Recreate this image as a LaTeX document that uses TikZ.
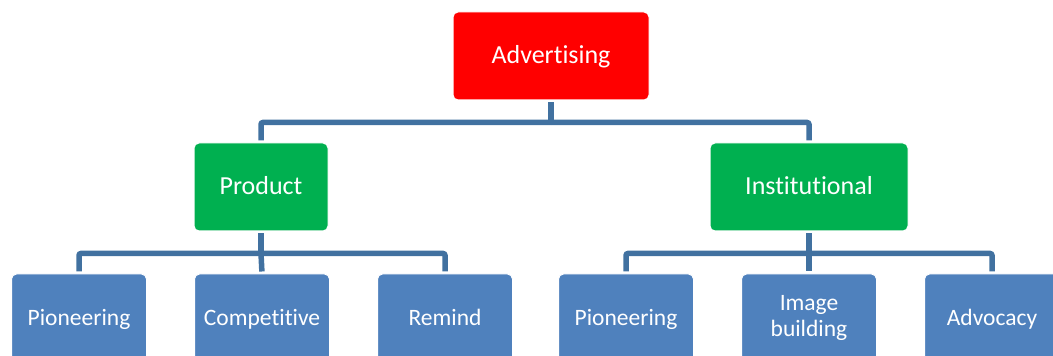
\documentclass[tikz,border=0pt]{standalone}
\usepackage{fontspec}
\setmainfont{Carlito}[Renderer=AAT, RawFeature={-liga;-rlig;-ccmp;-clig;-dlig;-calt}]
\usetikzlibrary{positioning, calc}
\usepackage{xcolor}
\definecolor{topred}{RGB}{255,0,0}
\definecolor{midgreen}{RGB}{0,176,80}
\definecolor{leafblue}{RGB}{79,129,189}
\definecolor{linkblue}{RGB}{65,113,160}
\newcommand{\boxstrut}{\rule[-4pt]{0pt}{24pt}}

\begin{document}
\begin{tikzpicture}[
        x=1pt, y=1pt,
        % Styles
        box/.style={draw=white, line width=1pt, rounded corners=5pt, text=white, align=center, inner sep=2pt, execute at begin node=\boxstrut},
        root/.style={box, fill=topred, minimum width=196pt, minimum height=88pt, font=\fontsize{26}{28}\selectfont},
        branch/.style={box, fill=midgreen, minimum height=88pt, font=\fontsize{26}{28}\selectfont},
        leaf/.style={box, fill=leafblue, minimum width=135pt, minimum height=88pt, font=\fontsize{23.5}{26}\selectfont},
        link/.style={draw=linkblue, line width=5.5pt, rounded corners=2pt, shorten <=2pt, shorten >=2pt},
    ]
        \useasboundingbox (0,0) rectangle (1053,356);

        % === Top: advertising ===
        \node[root] (adv) at (551,300) {Advertising};

        % === Second row ===
        \node[branch, minimum width=134pt] (prod) at (261,169) {Product};
        \node[branch, minimum width=198pt] (inst) at (809,169) {Institutional};

        % === Leaves under Product ===
        \node[leaf] (pionP) at (79,38) {Pioneering};
        \node[leaf, right=47pt of pionP] (comp) {Competitive};
        \node[leaf, right=47pt of comp] (remind) {Remind};

        % === Leaves under Institutional ===
        \node[leaf] (pionI) at (626,38) {Pioneering};
        \node[leaf, right=47pt of pionI] (image) {Image\\\boxstrut building};
        \node[leaf, right=47pt of image] (advoc) {Advocacy};

        % === Connectors ===
        \coordinate (busA) at ([yshift=-22pt]adv.south);
        \draw[link] (adv.south) -- (busA);
        \draw[link, shorten <=0pt] (busA) -| (prod.north);
        \draw[link, shorten <=0pt] (busA) -| (inst.north);

        \coordinate (busP) at ([yshift=-22pt]prod.south);
        \draw[link] (prod.south) -- (busP);
        \draw[link, shorten <=0pt] (busP) -| (pionP.north);
        \draw[link] (busP) -- (comp.north);
        \draw[link, shorten <=0pt] (busP) -| (remind.north);

        \coordinate (busI) at ([yshift=-22pt]inst.south);
        \draw[link] (inst.south) -- (busI);
        \draw[link, shorten <=0pt] (busI) -| (pionI.north);
        \draw[link] (busI) -- (image.north);
        \draw[link, shorten <=0pt] (busI) -| (advoc.north);
    \end{tikzpicture}
\end{document}
